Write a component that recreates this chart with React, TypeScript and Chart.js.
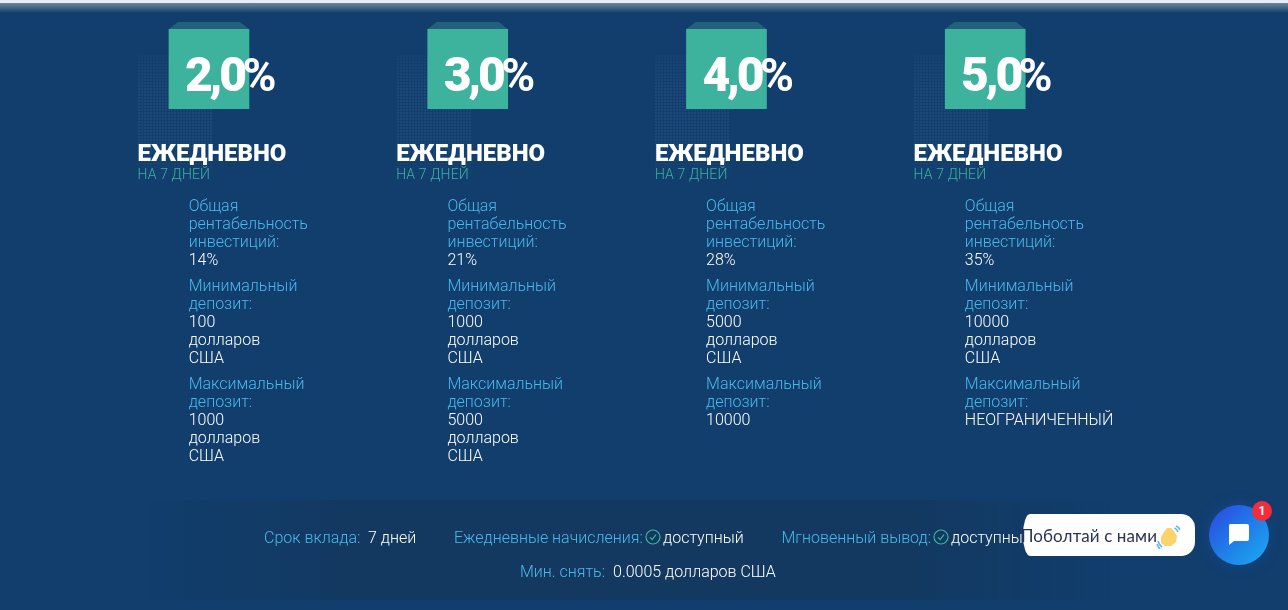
import { useEffect, useRef } from 'react';
import { Chart, registerables } from 'chart.js';
Chart.register(...registerables);

const RATES = [2, 3, 4, 5];
const RATE_LABELS = ['2,0', '3,0', '4,0', '5,0'];
const TOTALS = ['14%', '21%', '28%', '35%'];
const MIN_DEPOSITS = ['100 долларов США', '1000 долларов США', '5000 долларов США', '10000 долларов США'];
const MAX_DEPOSITS = ['1000 долларов США', '5000 долларов США', '10000', 'НЕОГРАНИЧЕННЫЙ'];
// every plan's block is the same size, whatever the rate is
const BLOCK_VALUES = [1, 1, 1, 1];

const BLUE = '#4bb8ec';
const WHITE = '#ffffff';
const GREEN = '#3db39e';
const STEP = 258.7;

const capPlugin = {
  id: 'cap',
  beforeDatasetsDraw(chart: Chart) {
    const { ctx } = chart;
    chart.getDatasetMeta(0).data.forEach((bar: any) => {
      const half = bar.width / 2;
      ctx.save();
      ctx.fillStyle = '#22607c';
      ctx.beginPath();
      ctx.moveTo(bar.x - half, bar.y);
      ctx.lineTo(bar.x - half + 9, bar.y - 7);
      ctx.lineTo(bar.x + half - 9, bar.y - 7);
      ctx.lineTo(bar.x + half, bar.y);
      ctx.closePath();
      ctx.fill();
      ctx.restore();
    });
  }
};

function Row({ label, value }: { label: string; value: string }) {
  return (
    <div style={{ marginBottom: 8, fontWeight: 300 }}>
      <div style={{ color: BLUE, width: 'min-content' }}>{label}</div>
      <div style={{ color: WHITE, width: 'min-content' }}>{value}</div>
    </div>
  );
}

function Check({ left, top }: { left: number; top: number }) {
  return (
    <svg width="16" height="16" viewBox="0 0 16 16" style={{ position: 'absolute', left, top }}>
      <circle cx="8" cy="8" r="7" fill="none" stroke={GREEN} strokeWidth="1.2" />
      <path d="M5 8.3 L7.2 10.5 L11 5.6" fill="none" stroke={GREEN} strokeWidth="1.2" />
    </svg>
  );
}

function Txt({ x, y, color, children }: { x: number; y: number; color: string; children: string }) {
  return (
    <div style={{ position: 'absolute', left: x, top: y, color, fontWeight: 300, whiteSpace: 'nowrap', lineHeight: '18px' }}>
      {children}
    </div>
  );
}

function App() {
  const canvasRef = useRef<HTMLCanvasElement>(null);

  useEffect(() => {
    if (!canvasRef.current) return;
    const chart = new Chart(canvasRef.current, {
      type: 'bar',
      data: {
        labels: RATES.map(String),
        datasets: [{ data: BLOCK_VALUES, backgroundColor: GREEN, barThickness: 80 }]
      },
      options: {
        responsive: false,
        animation: false,
        layout: { padding: { left: 79.6, right: 173.4, top: 29, bottom: 501 } },
        plugins: { legend: { display: false }, tooltip: { enabled: false } },
        scales: {
          x: { display: false },
          y: { display: false, min: 0, max: 1 }
        }
      },
      plugins: [capPlugin]
    });
    return () => chart.destroy();
  }, []);

  const fade = 'linear-gradient(to bottom, rgba(0,0,0,.4), #000 25%, #000 65%, transparent)';

  return (
    <div style={{ position: 'fixed', left: 0, top: 0, width: 1288, height: 610, overflow: 'hidden', background: '#113e6d', fontFamily: 'Roboto, sans-serif', fontSize: 16, lineHeight: '18px' }}>
      {/* top shadow */}
      <div style={{ position: 'absolute', left: 0, top: 0, width: 1288, height: 3, background: '#e6ecf8' }} />
      <div style={{ position: 'absolute', left: 0, top: 3, width: 1288, height: 10, background: 'linear-gradient(#6f869e, #113e6d)' }} />

      {/* dotted patches */}
      {RATES.map((r, i) => (
        <div key={r} style={{ position: 'absolute', left: 138 + i * STEP, top: 55, width: 75, height: 130, backgroundImage: 'radial-gradient(circle at 1px 1px, rgba(120,170,210,.11) 0.8px, transparent 1px)', backgroundSize: '3px 3px', WebkitMaskImage: fade, maskImage: fade }} />
      ))}

      <canvas ref={canvasRef} width={1288} height={610} style={{ position: 'absolute', left: 0, top: 0 }} />

      {RATE_LABELS.map((r, i) => (
        <div key={r} style={{ position: 'absolute', left: 185 + i * STEP, top: 47, color: WHITE, fontSize: 48, lineHeight: '56px', fontWeight: 900, letterSpacing: -3.2, whiteSpace: 'nowrap' }}>
          {r}<span style={{ fontWeight: 700, fontSize: 46, letterSpacing: 0, marginLeft: -1.5 }}>%</span>
        </div>
      ))}

      {RATES.map((r, i) => (
        <div key={r}>
          <div style={{ position: 'absolute', left: 137.5 + i * STEP, top: 139, color: WHITE, fontSize: 24, lineHeight: '28px', fontWeight: 900, letterSpacing: 0 }}>ЕЖЕДНЕВНО</div>
          <div style={{ position: 'absolute', left: 137.5 + i * STEP, top: 166, color: GREEN, fontSize: 14, lineHeight: '16px', fontWeight: 300, letterSpacing: 0.15 }}>НА 7 ДНЕЙ</div>
          <div style={{ position: 'absolute', left: 188.7 + i * STEP, top: 197 }}>
            <Row label="Общая рентабельность инвестиций:" value={TOTALS[i]} />
            <Row label="Минимальный депозит:" value={MIN_DEPOSITS[i]} />
            <Row label="Максимальный депозит:" value={MAX_DEPOSITS[i]} />
          </div>
        </div>
      ))}

      {/* bottom panel */}
      <div style={{ position: 'absolute', left: 150, top: 500, width: 960, height: 100, background: 'linear-gradient(to right, rgba(19,57,97,0), #133961 20%, #133961 80%, rgba(19,57,97,0))' }} />
      <Txt x={264} y={529} color={BLUE}>Срок вклада:</Txt>
      <Txt x={368} y={529} color={WHITE}>7 дней</Txt>
      <Txt x={454} y={529} color={BLUE}>Ежедневные начисления:</Txt>
      <Check left={645} top={529} />
      <Txt x={663} y={529} color={WHITE}>доступный</Txt>
      <Txt x={781.5} y={529} color={BLUE}>Мгновенный вывод:</Txt>
      <Check left={933} top={529} />
      <Txt x={951} y={529} color={WHITE}>доступный</Txt>
      <Txt x={520} y={563} color={BLUE}>Мин. снять:</Txt>
      <Txt x={613} y={563} color={WHITE}>0.0005 долларов США</Txt>

      {/* chat widget */}
      <div style={{ position: 'absolute', left: 1023, top: 514, width: 172, height: 42, background: WHITE, borderRadius: '7px 14px 14px 7px / 21px 14px 14px 21px' }} />
      <div style={{ position: 'absolute', left: 1021, top: 526, color: '#2b3350', fontFamily: 'Lato, sans-serif', fontSize: 17, lineHeight: '20px', whiteSpace: 'nowrap', letterSpacing: 0.1 }}>Поболтай с нами</div>
      <svg width="24" height="24" viewBox="0 0 24 24" style={{ position: 'absolute', left: 1156, top: 525 }}>
        <path d="M5 12 L8 7 L11 3 L15 3 L18 6 L21 11 L20 17 L15 21 L9 21 L5 18 Z" fill="#fcd36a" />
        <path d="M18.5 3 Q21 4 22 7 M20 1 Q23 2 24 5 M2 16 Q3 20 6 22 M1 19 Q2 22 4 24" fill="none" stroke="#5bb8ee" strokeWidth="1.6" />
      </svg>
      <div style={{ position: 'absolute', left: 1209, top: 505, width: 60, height: 60, borderRadius: '50%', background: 'linear-gradient(135deg, #2b46df, #17b0f0)', boxShadow: '0 0 14px rgba(30,90,200,.35)' }} />
      <svg width="22" height="22" viewBox="0 0 22 22" style={{ position: 'absolute', left: 1228, top: 524 }}>
        <path d="M2 0 H19 Q21 0 21 2 V15 Q21 17 19 17 H6 L1 21 V2 Q1 0 2 0 Z" fill={WHITE} />
      </svg>
      <div style={{ position: 'absolute', left: 1252, top: 501, width: 20, height: 20, borderRadius: '50%', background: '#f52c3c', color: WHITE, fontSize: 12, fontWeight: 700, lineHeight: '20px', textAlign: 'center' }}>1</div>
    </div>
  );
}

export default App;
